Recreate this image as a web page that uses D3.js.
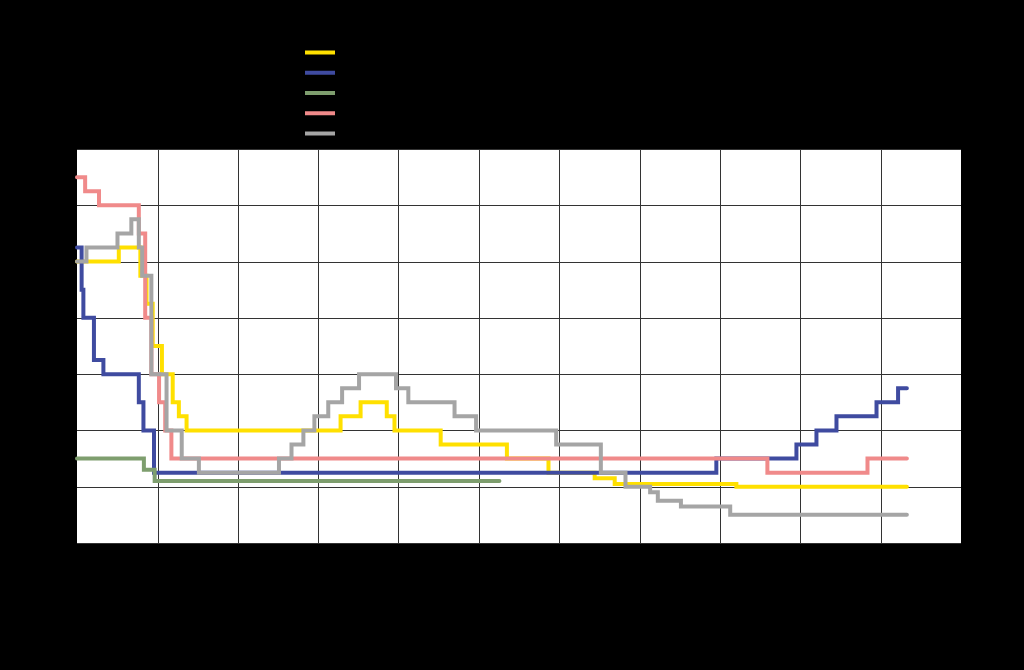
<!DOCTYPE html>
<html>
<head>
<meta charset="utf-8">
<script src="https://cdn.jsdelivr.net/npm/d3@7"></script>
<style>
  html, body { margin: 0; padding: 0; background: #000; }
  svg { display: block; font-family: "Liberation Sans", Arial, sans-serif; }
</style>
</head>
<body>
<svg id="chart" width="1024" height="670"></svg>
<script>
// ---- Data (policy rates, %) ----
const seriesNames = ["ECB", "Federal Reserve", "Bank of Japan", "Bank of England", "Riksbanken"];
const seriesColors = ["#FFE000", "#3F4BA0", "#7E9E6E", "#F08A8A", "#A5A5A5"];

const ecbDates  = ["2008-01-01","2008-07-09","2008-10-15","2008-11-12","2008-12-10","2009-01-21","2009-03-11","2009-04-08","2009-05-13","2011-04-13","2011-07-13","2011-11-09","2011-12-14","2012-07-11","2013-05-08","2013-11-13","2014-06-11","2014-09-10","2016-03-16","2018-04-30"];
const ecbRates  = [4.00, 4.25, 3.75, 3.25, 2.50, 2.00, 1.50, 1.25, 1.00, 1.25, 1.50, 1.25, 1.00, 0.75, 0.50, 0.25, 0.15, 0.05, 0.00, 0.00];

const fedDates  = ["2008-01-01","2008-01-22","2008-01-30","2008-03-18","2008-04-30","2008-10-08","2008-10-29","2008-12-16","2015-12-16","2016-12-14","2017-03-15","2017-06-14","2017-12-13","2018-03-21","2018-04-30"];
const fedRates  = [4.25, 3.50, 3.00, 2.25, 2.00, 1.50, 1.00, 0.25, 0.50, 0.75, 1.00, 1.25, 1.50, 1.75, 1.75];

const bojDates  = ["2008-01-01","2008-10-31","2008-12-19","2013-04-04"];
const bojRates  = [0.50, 0.30, 0.10, 0.10];

const boeDates  = ["2008-01-01","2008-02-07","2008-04-10","2008-10-08","2008-11-06","2008-12-04","2009-01-08","2009-02-05","2009-03-05","2016-08-04","2017-11-02","2018-04-30"];
const boeRates  = [5.50, 5.25, 5.00, 4.50, 3.00, 2.00, 1.50, 1.00, 0.50, 0.25, 0.50, 0.50];

const rbDates   = ["2008-01-01","2008-02-13","2008-07-03","2008-09-04","2008-10-08","2008-10-23","2008-12-04","2009-02-11","2009-04-21","2009-07-08","2010-07-07","2010-09-02","2010-10-26","2010-12-15","2011-02-16","2011-04-20","2011-07-06","2011-12-21","2012-02-15","2012-09-12","2012-12-19","2013-12-18","2014-07-09","2014-10-29","2015-02-18","2015-03-25","2015-07-08","2016-02-17","2018-04-30"];
const rbRates   = [4.00, 4.25, 4.50, 4.75, 4.25, 3.75, 2.00, 1.00, 0.50, 0.25, 0.50, 0.75, 1.00, 1.25, 1.50, 1.75, 2.00, 1.75, 1.50, 1.25, 1.00, 0.75, 0.25, 0.00, -0.10, -0.25, -0.35, -0.50, -0.50];

const yTicks = [-1, 0, 1, 2, 3, 4, 5, 6];
const xTickYears = [2008, 2009, 2010, 2011, 2012, 2013, 2014, 2015, 2016, 2017, 2018, 2019];

const allDates = [ecbDates, fedDates, bojDates, boeDates, rbDates];
const allRates = [ecbRates, fedRates, bojRates, boeRates, rbRates];

// ---- Layout ----
const svg = d3.select("#chart");
const W = 1024, H = 670;
const plot = { left: 77, right: 961, top: 149, bottom: 543 };

svg.append("rect").attr("width", W).attr("height", H).attr("fill", "#000");

const parse = d3.utcParse("%Y-%m-%d");
const x = d3.scaleUtc()
  .domain([new Date(Date.UTC(2008, 0, 1)), new Date(Date.UTC(2019, 0, 1))])
  .range([plot.left, plot.right]);
const y = d3.scaleLinear().domain([-1, 6]).range([plot.bottom, plot.top]);

// plot background
svg.append("rect")
  .attr("x", plot.left).attr("y", plot.top)
  .attr("width", plot.right - plot.left).attr("height", plot.bottom - plot.top)
  .attr("fill", "#fff");

// gridlines
const g = svg.append("g");
g.selectAll("line.h").data(yTicks).join("line")
  .attr("x1", plot.left).attr("x2", plot.right)
  .attr("y1", d => Math.round(y(d)) + 0.5).attr("y2", d => Math.round(y(d)) + 0.5)
  .attr("stroke", "#333").attr("stroke-width", 1);
const yearDates = xTickYears.map(yr => new Date(Date.UTC(yr, 0, 1)));
g.selectAll("line.v").data(yearDates.slice(1, -1)).join("line")
  .attr("y1", plot.top).attr("y2", plot.bottom)
  .attr("x1", d => Math.round(x(d)) + 0.5).attr("x2", d => Math.round(x(d)) + 0.5)
  .attr("stroke", "#333").attr("stroke-width", 1);

// axes (labels in black as in the reference)
const yAxis = svg.append("g").attr("transform", `translate(${plot.left},0)`)
  .call(d3.axisLeft(y).tickValues(yTicks).tickSize(0).tickFormat(d => d + " %"));
yAxis.select(".domain").remove();
yAxis.selectAll("text").attr("fill", "#000").attr("font-size", 13).attr("dx", -6);

const midYears = xTickYears.slice(0, -1).map(yr => new Date(Date.UTC(yr, 6, 2)));
const xAxis = svg.append("g").attr("transform", `translate(0,${plot.bottom})`)
  .call(d3.axisBottom(x).tickValues(midYears).tickSize(0).tickFormat(d3.utcFormat("%Y")));
xAxis.select(".domain").remove();
xAxis.selectAll("text").attr("fill", "#000").attr("font-size", 13).attr("dy", 12);

// lines
const line = d3.line()
  .x(d => x(d.date)).y(d => y(d.rate))
  .curve(d3.curveStepAfter);

const series = seriesNames.map((name, i) => ({
  name, color: seriesColors[i],
  values: allDates[i].map((d, j) => ({ date: parse(d), rate: allRates[i][j] }))
}));

svg.append("g").selectAll("path").data(series).join("path")
  .attr("d", s => line(s.values))
  .attr("fill", "none")
  .attr("stroke", s => s.color)
  .attr("stroke-width", 4)
  .attr("stroke-linejoin", "miter")
  .attr("stroke-linecap", "round");

// legend
const legend = svg.append("g");
const ly = d3.scaleLinear().domain([0, 4]).range([52.5, 133.5]);
series.forEach((s, i) => {
  legend.append("line")
    .attr("x1", 305).attr("x2", 335)
    .attr("y1", ly(i)).attr("y2", ly(i))
    .attr("stroke", s.color).attr("stroke-width", 4);
  legend.append("text")
    .attr("x", 342).attr("y", ly(i) + 4.5)
    .attr("fill", "#000").attr("font-size", 13)
    .text(s.name);
});
</script>
</body>
</html>
